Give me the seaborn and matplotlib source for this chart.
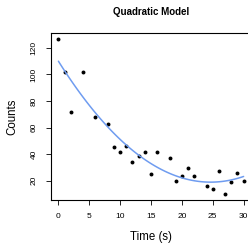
import numpy as np
import pandas as pd
import seaborn as sns
import matplotlib.pyplot as plt

time_s = [0, 1, 2, 4, 6, 8, 9, 10, 11, 12, 13, 14, 15, 16, 18, 19, 20, 21, 22, 24, 25, 26, 27, 28, 29, 30]
counts = [126.5, 101.7, 71.6, 101.7, 68, 63, 45.6, 42, 46.5, 34.3, 38.3, 42, 25, 41.8, 36.8, 19.8, 23.3, 29.8, 23.8,
          15.7, 13.8, 27, 10.2, 19, 26, 19.5]

df = pd.DataFrame({'time': time_s, 'counts': counts})

sns.set_style('ticks', rc={'axes.edgecolor': 'black', 'xtick.color': 'black', 'ytick.color': 'black',
                           'text.color': 'black', 'axes.labelcolor': 'black'})
plt.rcParams['font.family'] = ['Liberation Sans', 'DejaVu Sans']

fig = plt.figure(figsize=(2.48, 2.43), dpi=100)
ax = fig.add_axes([51 / 248, 43 / 243, 200 / 248, 167 / 243])

sns.regplot(x='time', y='counts', data=df, order=2, ci=None, ax=ax,
            scatter_kws={'color': 'black', 's': 8, 'linewidths': 0, 'alpha': 1},
            line_kws={'color': '#6f9cf0', 'lw': 1.1})

ax.set_xlim(-1.2, 31.2)
ax.set_ylim(5.5, 131.2)
ax.set_xticks([0, 5, 10, 15, 20, 25, 30])
ax.set_yticks([20, 40, 60, 80, 100, 120])
ax.tick_params(labelsize=6, length=3.5, width=0.6, pad=6, colors='black')
plt.setp(ax.get_yticklabels(), rotation=90, va='center')
for s in ax.spines.values():
    s.set_visible(True)
    s.set_linewidth(0.8)
    s.set_color('black')
ax.set_xlabel('Time (s)', fontsize=8.3, labelpad=8)
ax.set_ylabel('Counts', fontsize=8.3, labelpad=9)
fig.text(151 / 248, 1 - 12 / 243, 'Quadratic Model', ha='center', va='center', fontsize=7, fontweight='bold')

plt.savefig('out.png', dpi=100)
